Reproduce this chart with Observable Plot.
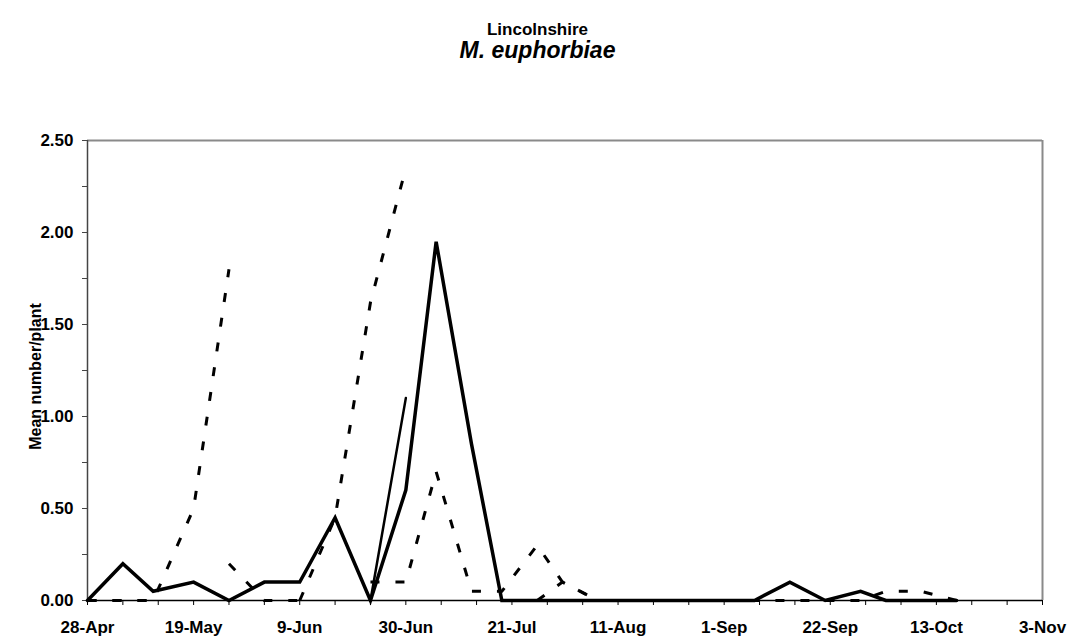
<!DOCTYPE html>
<html>
<head>
<meta charset="utf-8">
<script src="https://cdn.jsdelivr.net/npm/d3@7"></script>
<script src="https://cdn.jsdelivr.net/npm/@observablehq/plot@0.6"></script>
<style>
  body { margin: 0; background: #fff; font-family: "Liberation Sans", Arial, sans-serif; }
  #head { position: relative; height: 80px; width: 1075px; }
  #head div { position: absolute; left: 0; width: 1075px; text-align: center; font-weight: bold; color: #000; }
  #title { top: 20px; font-size: 17px; line-height: 20px; }
  #subtitle { top: 37px; font-size: 23px; line-height: 26px; font-style: italic; }
</style>
</head>
<body>
<div id="head">
  <div id="title">Lincolnshire</div>
  <div id="subtitle">M. euphorbiae</div>
</div>
<div id="chart"></div>
<script>
// Sampling dates (season of monitoring)
const sampleDates = [
  "2003-04-28", "2003-05-05", "2003-05-11", "2003-05-19", "2003-05-26",
  "2003-06-02", "2003-06-09", "2003-06-16", "2003-06-23", "2003-06-30",
  "2003-07-06", "2003-07-13", "2003-07-19", "2003-07-26", "2003-07-31",
  "2003-08-07", "2003-08-14", "2003-08-21", "2003-08-28", "2003-09-07",
  "2003-09-14", "2003-09-21", "2003-09-28", "2003-10-03", "2003-10-10",
  "2003-10-17"
];

// Mean aphids per plant; null = not sampled
const seriesA = [0, 0.20, 0.05, 0.10, 0, 0.10, 0.10, 0.45, 0, 0.60, 1.95, 0.85, 0,
                 0, 0, 0, 0, 0, 0, 0, 0.10, 0, 0.05, 0, 0, 0];
const seriesB = [null, null, null, null, null, null, null, null, 0, 1.10, null, null, null,
                 null, null, null, null, null, null, null, null, null, null, null, null, null];
const seriesC = [0, 0, 0, 0.50, 1.80, null, 0, 0.45, 1.62, 2.35, null, null, null,
                 0, 0.10, 0, null, null, null, null, null, null, null, null, null, null];
const seriesD = [0, 0, 0, null, 0.20, 0, 0, null, 0.10, 0.10, 0.70, 0.05, 0.05,
                 0.30, 0.10, 0, 0, 0, 0, 0, 0, 0, 0, 0.05, 0.05, 0];

// Axis settings
const xStart = "2003-04-28";
const xEnd = "2003-11-03";
const xTickLabels = ["28-Apr", "19-May", "9-Jun", "30-Jun", "21-Jul", "11-Aug", "1-Sep", "22-Sep", "13-Oct", "3-Nov"];
const yTickValues = [0, 0.25, 0.5, 0.75, 1, 1.25, 1.5, 1.75, 2, 2.25, 2.5];
const yTitle = "Mean number/plant";

const parse = d3.utcParse("%Y-%m-%d");
const fmt = d3.utcFormat("%-d-%b");
const start = parse(xStart), end = parse(xEnd);
const weekTicks = d3.utcDay.range(start, d3.utcDay.offset(end, 1), 7);
const labelSet = new Set(xTickLabels);

const toRows = (vals) => sampleDates.map((d, i) => ({date: parse(d), value: vals[i] == null ? NaN : vals[i]}));

const lineStyle = {x: "date", y: "value", stroke: "black", strokeLinejoin: "miter", strokeMiterlimit: 3};

const chart = Plot.plot({
  width: 1075,
  height: 561,
  marginTop: 60,
  marginBottom: 41,
  marginLeft: 87,
  marginRight: 33,
  x: {type: "utc", domain: [start, end]},
  y: {domain: [0, 2.5]},
  style: {fontFamily: "'Liberation Sans', Arial, sans-serif", fontWeight: "bold", fontSize: "17px", color: "#000", background: "#fff"},
  marks: [
    // plot area border (top and right)
    Plot.ruleY([2.5], {stroke: "#8a8a8a", strokeWidth: 2}),
    Plot.ruleX([end], {stroke: "#8a8a8a", strokeWidth: 2}),
    Plot.axisY({ticks: yTickValues, tickSize: 5, tickPadding: 9, stroke: "#444", fontSize: 17,
      tickFormat: d => Math.abs(d * 2 - Math.round(d * 2)) < 1e-9 ? d.toFixed(2) : "", label: null}),
    Plot.axisX({ticks: weekTicks, tickSize: 5, tickPadding: 15, stroke: "#000", fontSize: 17,
      tickFormat: d => labelSet.has(fmt(d)) ? fmt(d) : "", label: null}),
    Plot.ruleX([start], {stroke: "#444", strokeWidth: 1.5}),
    Plot.ruleY([0], {stroke: "#000", strokeWidth: 1.5}),
    Plot.text([yTitle], {frameAnchor: "left", textAnchor: "middle", rotate: -90, dx: -52, dy: 6, fontSize: 16, fontWeight: "bold"}),
    Plot.line(toRows(seriesD), {...lineStyle, strokeWidth: 3, strokeDasharray: "9,16", strokeLinecap: "butt"}),
    Plot.line(toRows(seriesC), {...lineStyle, strokeWidth: 3, strokeDasharray: "9,16", strokeLinecap: "butt"}),
    Plot.line(toRows(seriesB), {...lineStyle, strokeWidth: 2.5}),
    Plot.line(toRows(seriesA), {...lineStyle, strokeWidth: 3.5})
  ]
});
document.getElementById("chart").appendChild(chart);
</script>
</body>
</html>
